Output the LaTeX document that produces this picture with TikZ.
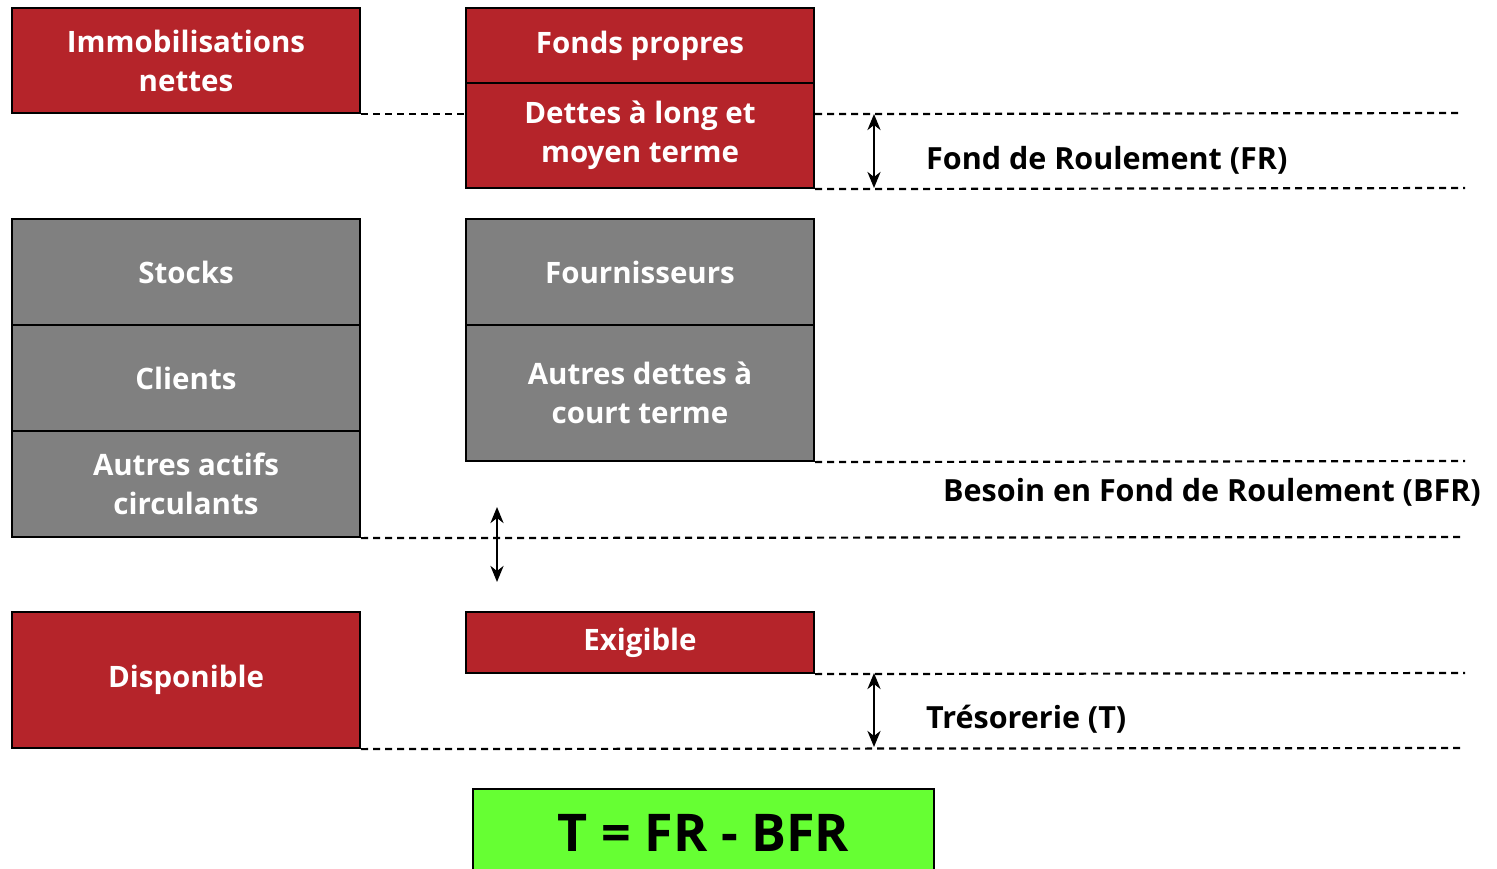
\documentclass[tikz,border=0pt]{standalone}
\usepackage{fontspec}
\setmainfont{Open Sans}
\usetikzlibrary{arrows.meta}
\definecolor{rouge}{HTML}{B5242A}
\definecolor{gris}{HTML}{808080}
\definecolor{vert}{HTML}{66FF33}
\tikzset{
  box/.style={draw=black, line width=2.2pt, text=white, align=center, inner sep=0pt,
    font=\fontsize{29.5}{39}\selectfont\bfseries},
  redbox/.style={box, fill=rouge},
  graybox/.style={box, fill=gris},
  dline/.style={line width=2.2pt, dash pattern=on 7pt off 5pt},
  darrow/.style={line width=2.8pt, {Stealth[length=16pt,width=13pt,inset=5pt]}-{Stealth[length=16pt,width=13pt,inset=5pt]}},
  lbl/.style={anchor=west, inner sep=0pt, font=\fontsize{30.5}{36}\selectfont\bfseries}
}
\begin{document}
\begin{tikzpicture}[x=1pt,y=-1pt]
\useasboundingbox (0,0) rectangle (1497,869);
\clip (0,0) rectangle (1497,869);
% left column
\node[redbox, minimum width=348pt, minimum height=105pt] (immo) at (186,60.5) {Immobilisations\\nettes};
\node[graybox, minimum width=348pt, minimum height=106pt] (stocks) at (186,272) {Stocks};
\node[graybox, minimum width=348pt, minimum height=106pt] (clients) at (186,378) {Clients};
\node[graybox, minimum width=348pt, minimum height=106pt] (aac) at (186,484) {Autres actifs\\circulants};
\node[redbox, minimum width=348pt, minimum height=136pt] (dispo) at (186,680) {Disponible};
% right column
\node[redbox, minimum width=348pt, minimum height=75pt] (fp) at (640,45.5) {Fonds propres};
\node[redbox, minimum width=348pt, minimum height=105pt] (dlmt) at (640,135.5) {Dettes à long et\\moyen terme};
\node[graybox, minimum width=348pt, minimum height=106pt] (fourn) at (640,272) {Fournisseurs};
\node[graybox, minimum width=348pt, minimum height=136pt] (adct) at (640,393) {Autres dettes à\\court terme};
\node[redbox, minimum width=348pt, minimum height=61pt] (exig) at (640,642.5) {Exigible};
% green formula box
\node[draw=black, line width=2.2pt, fill=vert, minimum width=461pt, minimum height=100pt, inner sep=0pt] (form) at (703.5,839) {};
\node[inner sep=0pt, font=\fontsize{52}{60}\selectfont\bfseries, anchor=base] (formt) at (703.5,851) {T = FR - BFR};
% dashed lines
\coordinate (e1) at (1462,113);
\coordinate (e2) at (1465,188);
\coordinate (e3) at (1465,461);
\coordinate (e4) at (1462,537);
\coordinate (e5) at (1465,673);
\coordinate (e6) at (1462,748);
\draw[dline] (immo.south east) -- (immo.south east -| dlmt.west);
\draw[dline] (immo.south east -| dlmt.east) -- (e1);
\draw[dline] (dlmt.south east) -- (e2);
\draw[dline] (adct.south east) -- (e3);
\draw[dline] (aac.south east) -- (e4);
\draw[dline] (exig.south east) -- (e5);
\draw[dline] (dispo.south east) -- (e6);
% arrows
\coordinate (a1t) at (874,114);
\coordinate (a1b) at (874,188);
\coordinate (a2t) at (497,507);
\coordinate (a2b) at (497,582);
\coordinate (a3t) at (874,673);
\coordinate (a3b) at (874,747);
\draw[darrow] (a1t) -- (a1b);
\draw[darrow] (a2t) -- (a2b);
\draw[darrow] (a3t) -- (a3b);
% labels
\node[lbl] (fr) at (926,160) {Fond de Roulement (FR)};
\node[lbl] (bfr) at (943,492) {Besoin en Fond de Roulement (BFR)};
\node[lbl] (tr) at (926,719) {Trésorerie (T)};
\end{tikzpicture}
\end{document}
